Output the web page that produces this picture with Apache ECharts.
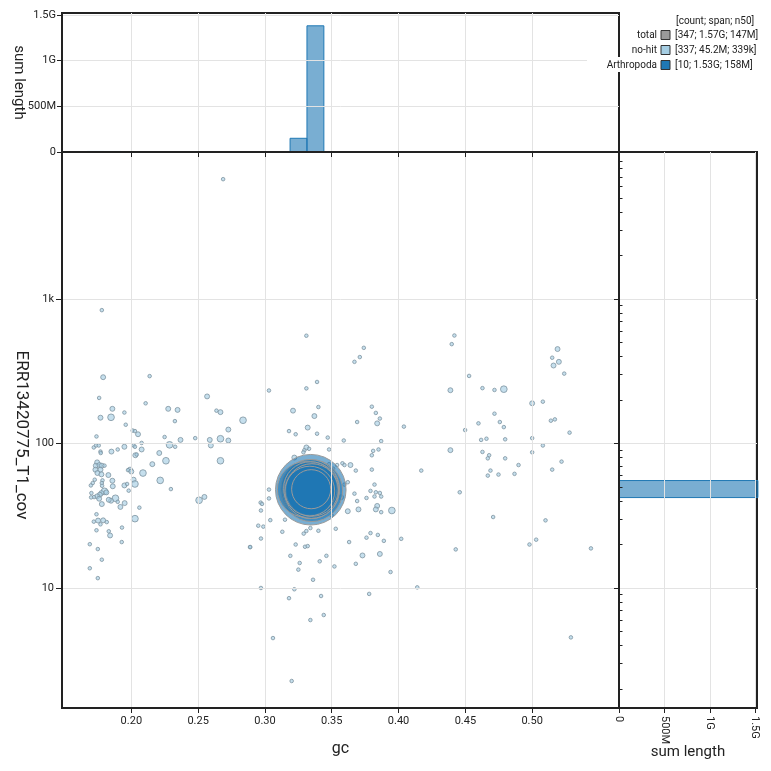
<!DOCTYPE html>
<html>
<head>
<meta charset="utf-8">
<script src="https://cdn.jsdelivr.net/npm/echarts@6.0.0/dist/echarts.min.js"></script>
<style>
  html, body { margin: 0; padding: 0; background: #fff; }
  #chart { width: 771px; height: 771px; }
</style>
</head>
<body>
<div id="chart"></div>
<script>
// axis ranges and ticks
const gcMin = 0.1481, gcMax = 0.565;
const covMin = 1.476, covMax = 10440;
const lenMax = 1.52e9;
const gcTicks = [0.2, 0.25, 0.3, 0.35, 0.4, 0.45, 0.5];
const covTicks = [10, 100, 1000];
const covMinorTicks = [2, 3, 4, 5, 6, 7, 8, 9, 20, 30, 40, 50, 60, 70, 80, 90,
  200, 300, 400, 500, 600, 700, 800, 900, 2000, 3000, 4000, 5000, 6000, 7000, 8000, 9000];
const lenTicks = [0, 5e8, 1e9, 1.5e9];

// histogram bins (gc linear, coverage in log10)
const gcBinStart = 0.1417, gcBinWidth = 0.01265;
const covBinStart = 0.092, covBinWidth = 0.118;

// legend
const legendNames = ['total', 'no-hit', 'Arthropoda'];
const legendColors = ['#999999', '#a6cee3', '#1f78b4'];
const legendStats = ['[347; 1.57G; 147M]', '[337; 45.2M; 339k]', '[10; 1.53G; 158M]'];

// Arthropoda contigs
const arthGc = [0.3343, 0.3350, 0.3338, 0.3345, 0.3300, 0.3348, 0.3340, 0.3352, 0.3336, 0.3346];
const arthCov = [47.9, 47.2, 48.6, 47.5, 48.2, 46.8, 48.9, 47.7, 46.9, 48.3];
const arthLen = [250e6, 190e6, 170e6, 158e6, 150e6, 145e6, 140e6, 135e6, 120e6, 72e6];

// no-hit contigs, low gc group
const leftGc = [0.2687,0.1779,0.1789,0.2137,0.1759,0.2567,0.2107,0.1858,0.1848,0.1769,
  0.1948,0.2276,0.2346,0.2637,0.2667,0.2836,0.2326,0.1958,0.2010,0.2027,
  0.2050,0.1739,0.2726,0.2249,0.2478,0.2368,0.2587,0.2667,0.2726,0.2077,
  0.2595,0.2286,0.2328,0.1719,0.1736,0.1756,0.1948,0.1898,0.1851,0.1769,
  0.1771,0.2017,0.2027,0.2077,0.2030,0.2040,0.2209,0.2259,0.2667,0.2157,
  0.2087,0.2216,0.2296,0.2507,0.2547,0.2027,0.2060,0.1918,0.1950,0.1881,
  0.1848,0.1898,0.1980,0.1948,0.1968,0.1861,0.1858,0.1828,0.1990,0.1975,
  0.2000,0.2017,0.2027,0.1744,0.1734,0.1761,0.1779,0.1799,0.1731,0.1769,
  0.1746,0.1776,0.1726,0.1784,0.1779,0.1711,0.1697,0.1781,0.1799,0.1813,
  0.1776,0.1764,0.1744,0.1721,0.1699,0.1701,0.1759,0.1779,0.1831,0.1739,
  0.1719,0.1751,0.1789,0.1816,0.1769,0.1739,0.1831,0.1841,0.1930,0.1928,
  0.1689,0.1749,0.1779,0.1689,0.1749,0.2888];
const leftCov = [6770,839,288,293,207,212,190,174,152,151,
  164,174,171,169,165,145,143,135,123,122,
  116,112,125,111,109,106,106,108,105,101,
  97,98,95,94,97,97,95,91,88,88,
  86,97,95,91,83,84,86,76,76,72,
  62.5,55.6,48.4,40.5,42.7,30.2,36,36.4,38.7,41.8,
  40.2,39.5,47.2,51.3,52.5,50.6,55.3,60.5,66,65.5,
  64,56.2,52.5,74.1,70.3,71,70.3,70.3,65.9,65.9,
  62.5,61.2,56.2,55.6,53.3,53.3,51.3,51,46.7,45.9,
  45.4,44.2,43.1,42.6,42.4,45.4,41.5,38.1,40.8,32.4,
  28.8,29.3,29.4,28.6,27.6,25.1,24.7,23.1,26.2,20.8,
  20.1,18.6,15.7,13.7,11.7,19.2];
const leftLenKb = [50,50,300,50,50,300,50,300,900,300,
  50,300,300,50,300,900,50,50,50,50,
  300,50,300,50,50,300,300,900,300,50,
  300,900,50,50,50,50,300,50,300,50,
  50,50,50,300,300,50,300,900,900,300,
  900,900,50,900,300,900,50,300,300,900,
  300,50,50,300,50,300,300,300,300,50,
  300,300,900,300,300,300,300,50,300,300,
  300,300,50,50,50,50,50,50,900,300,
  300,300,300,50,50,50,300,300,300,50,
  50,300,300,50,50,50,50,300,50,50,
  50,50,50,50,50,50];

// no-hit contigs, mid gc group
const midGc = [0.331,0.374,0.371,0.367,0.303,0.331,0.339,0.321,0.340,0.337,
  0.332,0.318,0.323,0.339,0.347,0.359,0.369,0.380,0.383,0.386,
  0.384,0.404,0.387,0.385,0.381,0.380,0.331,0.333,0.3295,0.3288,
  0.322,0.348,0.348,0.354,0.358,0.3595,0.364,0.368,0.380,0.417,
  0.362,0.3595,0.357,0.367,0.369,0.362,0.370,0.382,0.379,0.383,
  0.386,0.387,0.382,0.376,0.384,0.383,0.387,0.395,0.303,0.303,
  0.2968,0.2978,0.297,0.304,0.295,0.2988,0.297,0.289,0.313,0.315,
  0.329,0.331,0.334,0.340,0.353,0.363,0.376,0.379,0.3845,0.389,
  0.402,0.323,0.330,0.332,0.319,0.326,0.325,0.341,0.346,0.352,
  0.368,0.373,0.386,0.394,0.336,0.297,0.322,0.318,0.342,0.344,
  0.334,0.378,0.414,0.306,0.320,0.350,0.351];
const midCov = [558,460,397,368,233,241,267,169,179,155,
  129,122,116,117,110,105,141,180,163,149,
  138,131,104,91,89,83,94,92,90,87,
  80,91,72,71,73,71,71,65,66,65,
  54,52,42.5,45,40,34,35,52,47,46,
  45.5,43,43,42,37,35,33.5,34.4,48,41.7,
  39,38.2,34.4,29.5,27,26.6,22,19.2,24.5,29.7,
  23.8,24.8,26,24.9,25.7,20.8,22.3,24,23.3,21.2,
  21.9,20,19.3,19.5,16.7,14.9,13.4,15.3,16.7,14.1,
  14.7,16.8,17.2,12.9,11.4,10.0,9.8,8.5,8.8,6.5,
  6.0,9.1,10.1,4.5,2.27,31.7,67];
const midLenKb = [50,50,50,50,50,50,50,300,50,300,
  300,50,50,50,50,50,50,50,50,50,
  300,50,50,50,50,50,300,50,50,50,
  300,50,50,50,50,50,300,50,50,50,
  50,50,300,50,50,300,300,50,50,50,
  50,50,50,50,300,300,50,900,50,50,
  50,50,50,50,50,50,50,50,50,50,
  50,50,50,50,50,50,50,50,50,50,
  50,50,50,50,50,50,50,50,50,50,
  50,300,300,50,50,50,50,50,50,50,
  50,50,50,50,50,50,50];

// no-hit contigs, high gc group
const rightGc = [0.4418,0.4398,0.519,0.515,0.520,0.516,0.524,0.4528,0.4388,0.4628,
  0.4718,0.4788,0.500,0.508,0.4718,0.4598,0.4758,0.4788,0.514,0.517,
  0.528,0.4498,0.4618,0.4658,0.4798,0.500,0.4388,0.4628,0.4678,0.4668,
  0.4798,0.500,0.508,0.522,0.4898,0.515,0.4688,0.4668,0.4748,0.4868,
  0.4458,0.4708,0.510,0.503,0.498,0.4428,0.544,0.529];
const rightCov = [560,488,451,393,368,347,305,294,234,242,
  235,238,190,195,161,138,141,130,144,147,
  119,124,106,108,107,109,90,87.5,83,79,
  79,87,97,75,71,66,65,60,61,61.7,
  46,31,29.4,21.6,20,18.5,18.8,4.55];
const rightLenKb = [50,50,300,50,300,300,50,50,300,50,
  50,900,300,50,50,50,50,50,50,50,
  50,50,50,50,50,50,300,50,50,50,
  50,50,50,50,50,50,50,50,50,50,
  50,50,50,50,50,50,50,50];

const noHitGc = leftGc.concat(midGc, rightGc);
const noHitCov = leftCov.concat(midCov, rightCov);
const noHitLen = leftLenKb.concat(midLenKb, rightLenKb).map(v => v * 1000);

const font = 'Roboto';
const ink = '#222';

function fmtLen(v) {
  if (v === 0) return '0';
  if (v >= 1e9) return (v / 1e9) + 'G';
  return (v / 1e6) + 'M';
}
function fmtCov(v) {
  return v >= 1000 ? (v / 1000) + 'k' : String(Math.round(v));
}
function sizeOf(len) {
  return 2.6 + 0.0043 * Math.sqrt(len);
}

// sum of lengths per bin, gc bins are linear, coverage bins are log10
function gcHist(gcs, lens) {
  const sums = {};
  gcs.forEach(function (g, i) {
    const k = Math.floor((g - gcBinStart) / gcBinWidth);
    sums[k] = (sums[k] || 0) + lens[i];
  });
  return Object.keys(sums).map(function (k) {
    k = Number(k);
    return [gcBinStart + k * gcBinWidth, gcBinStart + (k + 1) * gcBinWidth, sums[k]];
  });
}
function covHist(covs, lens) {
  const sums = {};
  covs.forEach(function (c, i) {
    const k = Math.floor((Math.log10(c) - covBinStart) / covBinWidth);
    sums[k] = (sums[k] || 0) + lens[i];
  });
  return Object.keys(sums).map(function (k) {
    k = Number(k);
    return [sums[k], Math.pow(10, covBinStart + k * covBinWidth), Math.pow(10, covBinStart + (k + 1) * covBinWidth)];
  });
}

function topBar(fill, stroke) {
  return function (params, api) {
    const p0 = api.coord([api.value(0), api.value(2)]);
    const p1 = api.coord([api.value(1), 0]);
    return {
      type: 'rect',
      shape: { x: p0[0], y: p0[1], width: p1[0] - p0[0], height: p1[1] - p0[1] },
      style: { fill: fill, stroke: stroke, lineWidth: 1 }
    };
  };
}
function sideBar(fill, stroke) {
  return function (params, api) {
    const p0 = api.coord([0, api.value(2)]);
    const p1 = api.coord([api.value(0), api.value(1)]);
    return {
      type: 'rect',
      shape: { x: p0[0], y: p0[1], width: p1[0] - p0[0], height: p1[1] - p0[1] },
      style: { fill: fill, stroke: stroke, lineWidth: 1 }
    };
  };
}

const axisLine = { show: true, onZero: false, lineStyle: { color: ink, width: 2 } };
const splitLine = { show: true, lineStyle: { color: '#e3e3e3', width: 1 } };
const tickStyle = { color: ink, width: 1 };
const labelStyle = { color: ink, fontSize: 11, fontFamily: font };
const nameStyle = size => ({ color: ink, fontSize: size, fontFamily: font });

// legend, with a white strip behind the widest row
const legendGraphics = [{
  type: 'rect', shape: { x: 587, y: 57, width: 180, height: 15 },
  style: { fill: '#fff' }, z: 90
}, {
  type: 'text', left: 676, top: 16, z: 100,
  style: { text: '[count; span; n50]', fill: ink, font: '10px Roboto' }
}];
legendNames.forEach(function (name, i) {
  const y = 35 + i * 15;
  legendGraphics.push({
    type: 'text', x: 657, y: y, z: 100,
    style: { text: name, fill: ink, font: '10px Roboto', align: 'right', verticalAlign: 'middle' }
  });
  legendGraphics.push({
    type: 'rect', shape: { x: 661, y: y - 4.5, width: 9, height: 9 }, z: 100,
    style: { fill: legendColors[i], stroke: '#333', lineWidth: 1 }
  });
  legendGraphics.push({
    type: 'text', x: 675, y: y, z: 100,
    style: { text: legendStats[i], fill: ink, font: '10px Roboto', align: 'left', verticalAlign: 'middle' }
  });
});

const chart = echarts.init(document.getElementById('chart'));
chart.setOption({
  animation: false,
  textStyle: { fontFamily: font },
  grid: [
    { left: 62, top: 13, width: 557, height: 139, show: true, borderColor: ink, borderWidth: 2 },
    { left: 62, top: 152, width: 557, height: 556, show: true, borderColor: ink, borderWidth: 2 },
    { left: 619, top: 152, width: 138, height: 556, show: true, borderColor: ink, borderWidth: 2 }
  ],
  xAxis: [
    {
      gridIndex: 0, type: 'value', min: gcMin, max: gcMax, z: 10,
      axisLine: axisLine,
      axisTick: { customValues: gcTicks, length: 5, lineStyle: tickStyle },
      axisLabel: { show: false },
      splitLine: splitLine
    },
    {
      gridIndex: 1, type: 'value', min: gcMin, max: gcMax, z: 10,
      axisLine: axisLine,
      axisTick: { customValues: gcTicks, length: 5, lineStyle: tickStyle },
      axisLabel: Object.assign({ customValues: gcTicks, margin: 8, formatter: v => v.toFixed(2) }, labelStyle),
      splitLine: splitLine,
      name: 'gc', nameLocation: 'middle', nameGap: 33, nameMoveOverlap: false,
      nameTextStyle: nameStyle(16)
    },
    {
      gridIndex: 2, type: 'value', min: 0, max: lenMax, z: 10,
      axisLine: axisLine,
      axisTick: { customValues: lenTicks, length: 5, lineStyle: tickStyle },
      axisLabel: Object.assign({ customValues: lenTicks, rotate: -90, margin: 8, formatter: fmtLen }, labelStyle),
      splitLine: splitLine,
      name: 'sum length', nameLocation: 'middle', nameGap: 37, nameMoveOverlap: false,
      nameTextStyle: nameStyle(15)
    }
  ],
  yAxis: [
    {
      gridIndex: 0, type: 'value', min: 0, max: lenMax, z: 10,
      axisLine: axisLine,
      axisTick: { customValues: lenTicks, length: 5, lineStyle: tickStyle },
      axisLabel: Object.assign({ customValues: lenTicks, margin: 6, formatter: fmtLen }, labelStyle),
      splitLine: splitLine,
      name: 'sum length', nameLocation: 'middle', nameRotate: -90, nameGap: 36, nameMoveOverlap: false,
      nameTextStyle: nameStyle(15)
    },
    {
      gridIndex: 1, type: 'log', logBase: 10, min: covMin, max: covMax, z: 10,
      axisLine: axisLine,
      axisTick: { customValues: covTicks, length: 6, lineStyle: tickStyle },
      axisLabel: Object.assign({ customValues: covTicks, margin: 8, formatter: fmtCov }, labelStyle),
      splitLine: splitLine,
      name: 'ERR13420775_T1_cov', nameLocation: 'middle', nameRotate: -90, nameGap: 32, nameMoveOverlap: false,
      nameTextStyle: Object.assign(nameStyle(17), { padding: [0, 0, 0, 10] })
    },
    {
      gridIndex: 1, type: 'log', logBase: 10, min: covMin, max: covMax, z: 10,
      axisLine: { show: false },
      axisTick: { customValues: covMinorTicks, length: 3.5, lineStyle: tickStyle },
      axisLabel: { show: false },
      splitLine: { show: false }
    },
    {
      gridIndex: 2, type: 'log', logBase: 10, min: covMin, max: covMax, z: 10,
      axisLine: axisLine,
      axisTick: { customValues: covTicks, length: 5, lineStyle: tickStyle },
      axisLabel: { show: false },
      splitLine: splitLine
    },
    {
      gridIndex: 2, type: 'log', logBase: 10, min: covMin, max: covMax, z: 10,
      axisLine: { show: false },
      axisTick: { customValues: covMinorTicks, length: 3, lineStyle: tickStyle },
      axisLabel: { show: false },
      splitLine: { show: false }
    }
  ],
  series: [
    {
      type: 'custom', xAxisIndex: 0, yAxisIndex: 0,
      encode: { x: [0, 1], y: 2 },
      renderItem: topBar('rgba(166,206,227,0.6)', '#a6cee3'),
      data: gcHist(noHitGc, noHitLen)
    },
    {
      type: 'custom', xAxisIndex: 0, yAxisIndex: 0,
      encode: { x: [0, 1], y: 2 },
      renderItem: topBar('rgba(31,120,180,0.6)', '#1f78b4'),
      data: gcHist(arthGc, arthLen)
    },
    {
      type: 'custom', xAxisIndex: 2, yAxisIndex: 3,
      encode: { x: 0, y: [1, 2] },
      renderItem: sideBar('rgba(166,206,227,0.6)', '#a6cee3'),
      data: covHist(noHitCov, noHitLen)
    },
    {
      type: 'custom', xAxisIndex: 2, yAxisIndex: 3,
      encode: { x: 0, y: [1, 2] },
      renderItem: sideBar('rgba(31,120,180,0.6)', '#1f78b4'),
      data: covHist(arthCov, arthLen)
    },
    {
      name: 'no-hit', type: 'scatter', xAxisIndex: 1, yAxisIndex: 1,
      symbolSize: v => sizeOf(v[2]),
      itemStyle: { color: 'rgba(166,206,227,0.65)', borderColor: '#7d93a0', borderWidth: 0.8, opacity: 1 },
      emphasis: { disabled: true },
      data: noHitGc.map((g, i) => [g, noHitCov[i], noHitLen[i]])
    },
    {
      name: 'Arthropoda', type: 'scatter', xAxisIndex: 1, yAxisIndex: 1,
      symbolSize: v => sizeOf(v[2]),
      itemStyle: { color: 'rgba(31,120,180,0.6)', borderColor: '#9a9a9a', borderWidth: 1, opacity: 1 },
      emphasis: { disabled: true },
      data: arthGc.map((g, i) => [g, arthCov[i], arthLen[i]])
    }
  ],
  graphic: legendGraphics
});
</script>
</body>
</html>
